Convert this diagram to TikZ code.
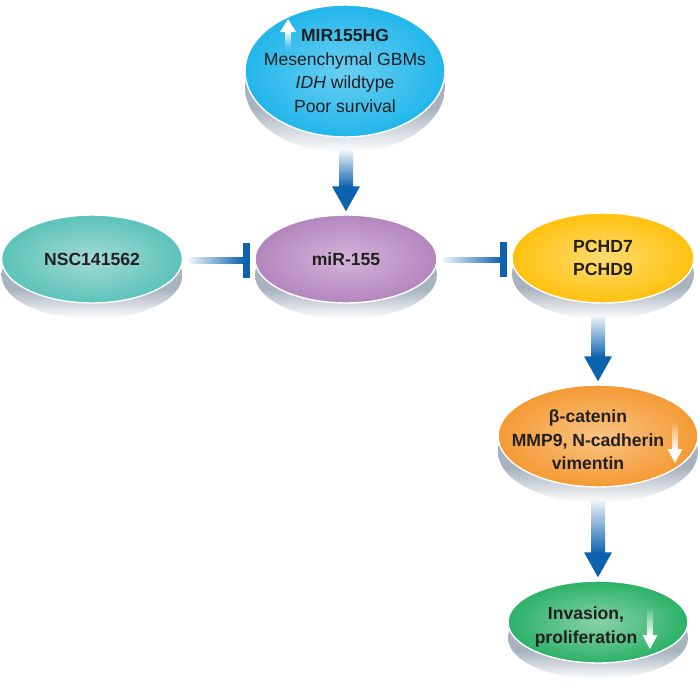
\documentclass[tikz,border=0pt]{standalone}
\usepackage{fontspec}
\setmainfont{Liberation Sans}
\usetikzlibrary{shapes.geometric,calc,fadings}
\definecolor{Celeste}{HTML}{22B6EA}
\definecolor{CelesteClaro}{HTML}{6ACFF3}
\definecolor{Turquesa}{HTML}{5BC3BA}
\definecolor{TurquesaClaro}{HTML}{A3DAD5}
\definecolor{Morado}{HTML}{B386BD}
\definecolor{MoradoClaro}{HTML}{D3B4D9}
\definecolor{Amarillo}{HTML}{FFC10E}
\definecolor{AmarilloClaro}{HTML}{FFDC70}
\definecolor{Naranja}{HTML}{F49A33}
\definecolor{NaranjaClaro}{HTML}{F9C384}
\definecolor{Verde}{HTML}{2BB268}
\definecolor{VerdeClaro}{HTML}{88D2A6}
\definecolor{AzulFlecha}{HTML}{0C62AF}
\definecolor{GrisSombra}{HTML}{A9B3BF}
\definecolor{Texto}{HTML}{231F20}
\pgfdeclareverticalshading{sombra}{100bp}{color(0bp)=(white); color(25bp)=(white);
  color(42bp)=(GrisSombra); color(100bp)=(GrisSombra)}

\begin{document}
\begin{tikzpicture}[x=0.02cm,y=-0.02cm,
  blob/.style={ellipse,draw=white,line width=0.8pt,inner sep=0pt,
    inner color=#1Claro,outer color=#1,
    text=Texto,font=\bfseries,align=center,
    preaction={draw=none,shade,shading=sombra,transform canvas={yshift=-0.32cm}}},
  txt/.style={align=center,text=Texto,font=\fontsize{10}{13.4}\selectfont\bfseries}]
  \useasboundingbox (0,0) rectangle (700,693);

  % Elipses con sombra
  \node[blob=Celeste,minimum width=4cm,minimum height=2.64cm] (hg) at (345,71) {};
  \node[blob=Turquesa,minimum width=3.62cm,minimum height=1.76cm] (nsc) at (92,259) {NSC141562};
  \node[blob=Morado,minimum width=3.64cm,minimum height=1.76cm] (mir) at (346,259) {miR-155};
  \node[blob=Amarillo,minimum width=3.64cm,minimum height=1.8cm,
    font=\fontsize{10}{13.4}\selectfont\bfseries] (pchd) at (603,258) {PCHD7\\PCHD9};
  \node[blob=Naranja,minimum width=4cm,minimum height=2.04cm] (cat) at (598,436) {};
  \node[blob=Verde,minimum width=3.6cm,minimum height=1.64cm] (inv) at (598,622) {};

  % Textos de varias líneas
  \node[txt,font=\fontsize{10}{13.4}\selectfont] (hgT) at (hg)
    {\textbf{MIR155HG}\\Mesenchymal GBMs\\\textit{IDH} wildtype\\Poor survival};
  \node[txt] (catT) at ($(cat)+(-10,4)$) {β-catenin\\MMP9, N-cadherin\\vimentin};
  \node[txt] (invT) at ($(inv)+(-12,5)$) {Invasion,\\proliferation};

  % Flechas de activación
  \foreach \a/\b in {hg/mir,pchd/cat,cat/inv}{
    \coordinate (s) at ($(\a.south -| \b.north)+(0,12)$);
    \coordinate (t) at ($(\b.north)+(0,-3)$);
    \shade[top color=AzulFlecha!6,bottom color=AzulFlecha]
      ($(s)+(-7,0)$) rectangle ($(t)+(7,-24)$);
    \fill[AzulFlecha] ($(t)+(-14,-25)$) -- ($(t)+(14,-25)$) -- (t) -- cycle;
  }

  % Flechas de inhibición
  \foreach \a/\b in {nsc/mir,mir/pchd}{
    \shade[left color=AzulFlecha!6,right color=AzulFlecha]
      ($(\a.east)+(5,-2)$) rectangle ($(\b.west)+(-10,4)$);
    \fill[AzulFlecha] ($(\b.west)+(-11,-16)$) rectangle ($(\b.west)+(-4,19)$);
  }

  % Flechas blancas de sobre/infraexpresión
  \fill[white,path fading=south] ($(hg)+(-60,-40)$) rectangle ($(hg)+(-54,-22)$);
  \fill[white] ($(hg)+(-65,-39)$) -- ($(hg)+(-49,-39)$) -- ($(hg)+(-57,-52)$) -- cycle;
  \foreach \n/\dx in {cat/77,inv/52}{
    \fill[white,path fading=north] ($(\n)+(\dx-3,-15)$) rectangle ($(\n)+(\dx+3,14)$);
    \fill[white] ($(\n)+(\dx-7.5,13)$) -- ($(\n)+(\dx+7.5,13)$) -- ($(\n)+(\dx,27)$) -- cycle;
  }
\end{tikzpicture}
\end{document}
